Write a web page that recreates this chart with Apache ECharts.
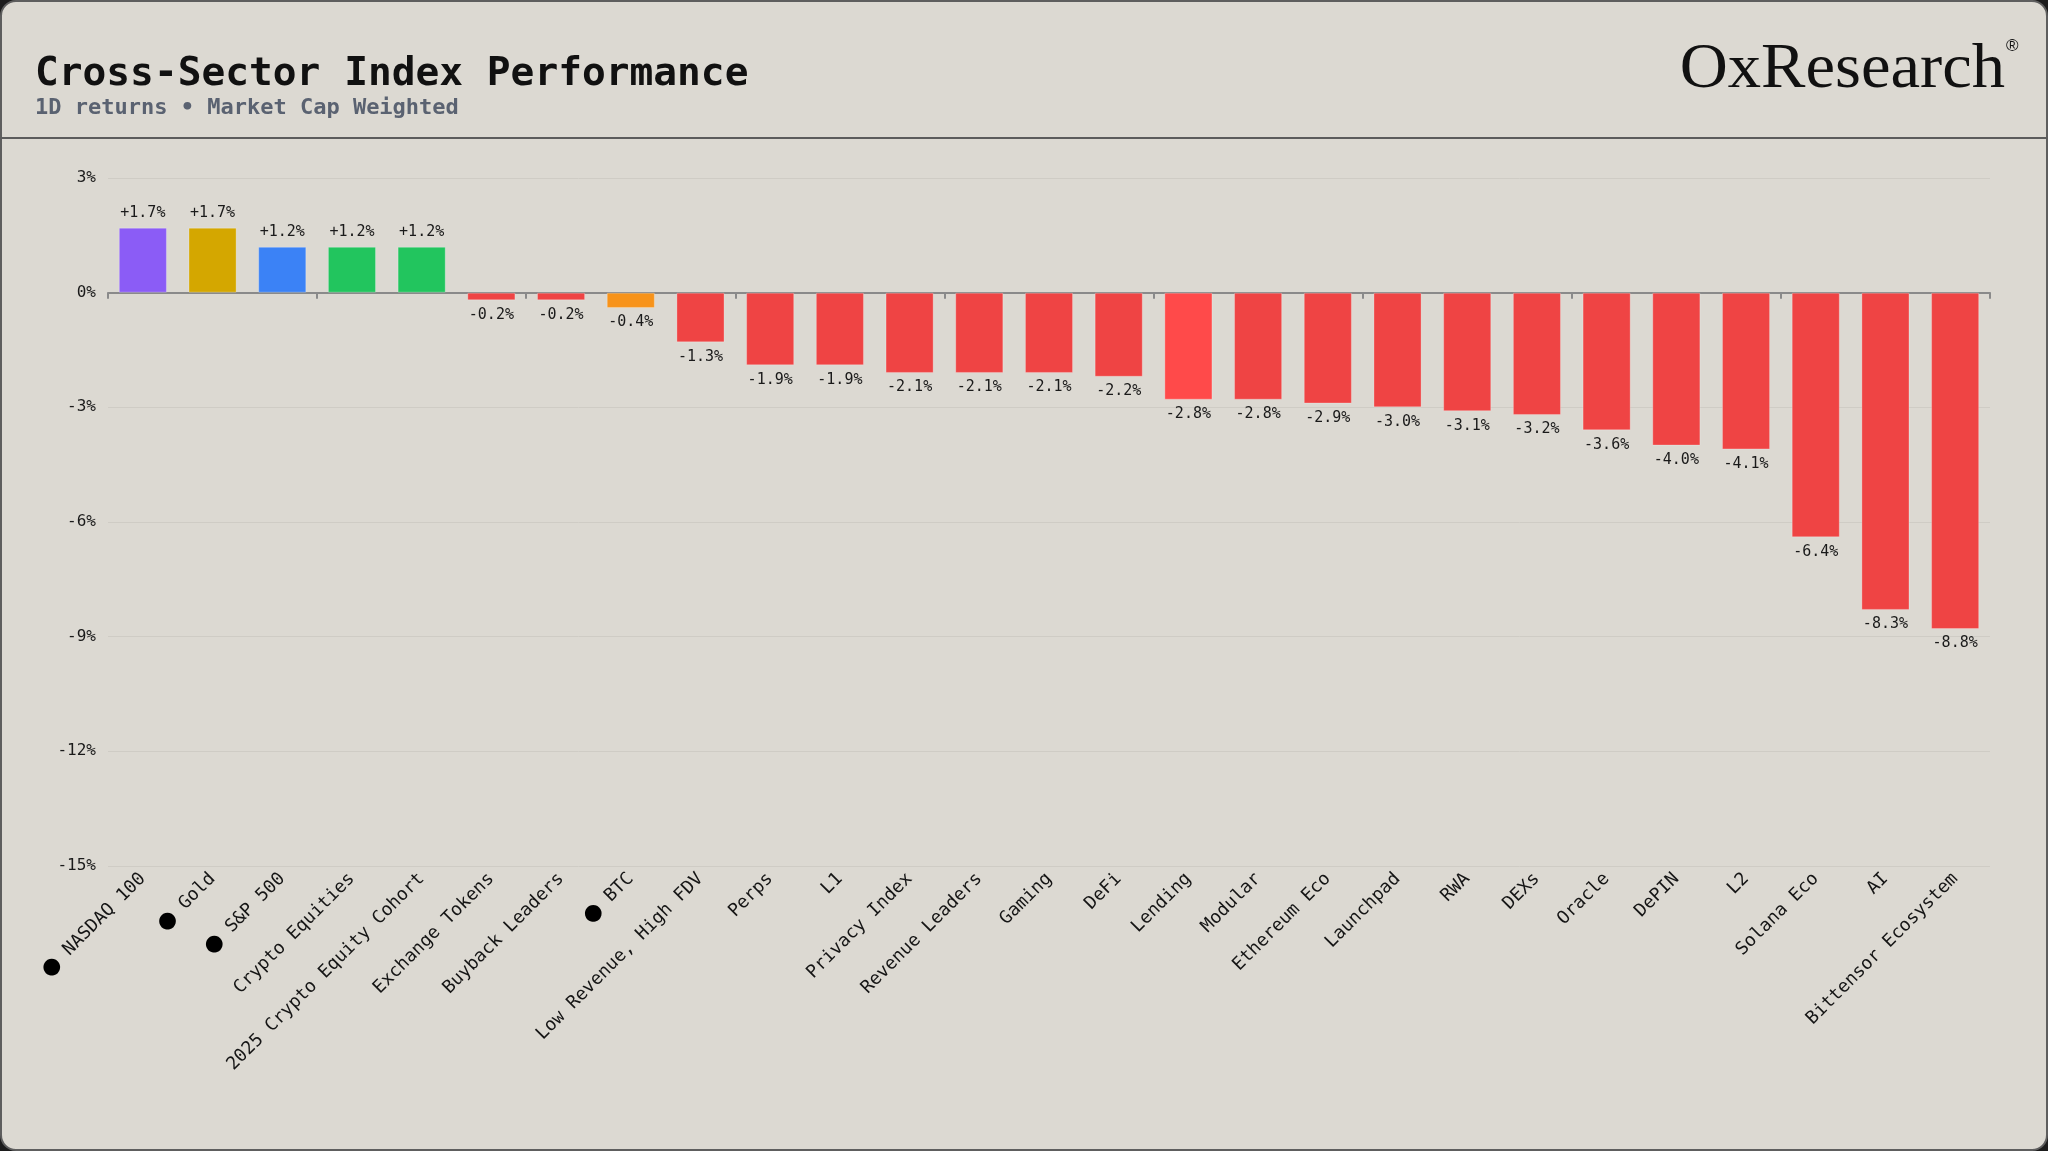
<!DOCTYPE html>
<html>
<head>
<meta charset="utf-8">
<script src="https://cdn.jsdelivr.net/npm/echarts@6/dist/echarts.min.js"></script>
<style>
  html, body { margin: 0; padding: 0; background: #1c1c1c; width: 2048px; height: 1151px; overflow: hidden; }
  #frame { position: absolute; left: 0; top: 0; width: 2048px; height: 1151px; box-sizing: border-box;
           background: #dcd9d2; border: 2px solid #5e5e5e; border-radius: 16px; }
  #chart { position: absolute; left: 0; top: 0; width: 2048px; height: 1151px; }
</style>
</head>
<body>
<div id="frame"></div>
<div id="chart"></div>
<script>
// ---- data ----
const categories = [
  'NASDAQ 100', 'Gold', 'S&P 500', 'Crypto Equities', '2025 Crypto Equity Cohort',
  'Exchange Tokens', 'Buyback Leaders', 'BTC', 'Low Revenue, High FDV', 'Perps',
  'L1', 'Privacy Index', 'Revenue Leaders', 'Gaming', 'DeFi',
  'Lending', 'Modular', 'Ethereum Eco', 'Launchpad', 'RWA',
  'DEXs', 'Oracle', 'DePIN', 'L2', 'Solana Eco',
  'AI', 'Bittensor Ecosystem'
];
const values = [
  1.7, 1.7, 1.2, 1.2, 1.2,
  -0.2, -0.2, -0.4, -1.3, -1.9,
  -1.9, -2.1, -2.1, -2.1, -2.2,
  -2.8, -2.8, -2.9, -3.0, -3.1,
  -3.2, -3.6, -4.0, -4.1, -6.4,
  -8.3, -8.8
];
const barColors = [
  '#8b5cf6', '#d4a700', '#3b82f6', '#22c55e', '#22c55e',
  '#ef4444', '#ef4444', '#f7931a', '#ef4444', '#ef4444',
  '#ef4444', '#ef4444', '#ef4444', '#ef4444', '#ef4444',
  '#ff4a4a', '#ef4444', '#ef4444', '#ef4444', '#ef4444',
  '#ef4444', '#ef4444', '#ef4444', '#ef4444', '#ef4444',
  '#ef4444', '#ef4444'
];
const bulletCategories = ['NASDAQ 100', 'Gold', 'S&P 500', 'BTC'];
const yMin = -15, yMax = 3, yInterval = 3;
const titleText = 'Cross-Sector Index Performance';
const subtitleText = '1D returns \u2022 Market Cap Weighted';
const brandText = 'OxResearch';

// ---- chart ----
const MONO = '"DejaVu Sans Mono", "Liberation Mono", monospace';
const chart = echarts.init(document.getElementById('chart'), null, { renderer: 'canvas' });

const seriesData = values.map((v, i) => ({
  value: v,
  itemStyle: { color: barColors[i] },
  label: { position: v >= 0 ? 'top' : 'bottom' }
}));

chart.setOption({
  backgroundColor: 'transparent',
  animation: false,
  grid: { left: 108, right: 58, top: 178, bottom: 285, containLabel: false },
  graphic: [
    { type: 'text', left: 35, top: 55, style: { text: titleText, font: 'bold 39.5px ' + MONO, fill: '#111' } },
    { type: 'text', left: 35, top: 97, style: { text: subtitleText, font: 'bold 22px ' + MONO, fill: '#5a6271' } },
    { type: 'text', x: 2005, y: 38, scaleX: 1.04,
      style: { text: brandText, font: '64px "Liberation Serif", "DejaVu Serif", serif', fill: '#111',
               align: 'right', textAlign: 'right' } },
    { type: 'text', x: 2006, y: 38, style: { text: '\u00ae', font: '17px "Liberation Sans", sans-serif', fill: '#111' } },
    { type: 'rect', shape: { x: 0, y: 137, width: 2048, height: 2 }, style: { fill: '#5c5c5c' } }
  ],
  xAxis: [
    {
      type: 'category', data: categories, position: 'bottom',
      axisLine: { show: false, onZero: false },
      axisTick: { show: false },
      axisLabel: {
        interval: 0, rotate: 45, margin: 10,
        fontFamily: MONO, fontSize: 18, color: '#151515',
        formatter: (v) => bulletCategories.includes(v) ? '{dot|\u25cf} ' + v : v,
        rich: { dot: { fontSize: 22, color: '#000', fontFamily: 'DejaVu Sans' } }
      },
      splitLine: { show: false }
    },
    {
      type: 'category', data: categories, position: 'top',
      axisLine: { show: true, onZero: true, lineStyle: { color: '#8a8a8a', width: 2 } },
      axisTick: { show: true, inside: true, length: 6, lineStyle: { color: '#8a8a8a', width: 2 } },
      axisLabel: { show: false },
      splitLine: { show: false }
    }
  ],
  yAxis: {
    type: 'value', min: yMin, max: yMax, interval: yInterval,
    axisLine: { show: false }, axisTick: { show: false },
    axisLabel: { formatter: (v) => v + '%', fontFamily: MONO, fontSize: 16, color: '#1a1a1a', margin: 12 },
    splitLine: { lineStyle: { color: '#cfccc5', width: 1 } }
  },
  series: [{
    type: 'bar', xAxisIndex: 0,
    data: seriesData,
    barCategoryGap: '31%',
    itemStyle: { borderColor: 'rgba(255,255,255,0.25)', borderWidth: 1 },
    label: {
      show: true, distance: 7,
      fontFamily: MONO, fontSize: 15, color: '#1a1a1a',
      formatter: (p) => (p.value > 0 ? '+' : '') + p.value.toFixed(1) + '%'
    },
    z: 1
  }]
});
</script>
</body>
</html>
